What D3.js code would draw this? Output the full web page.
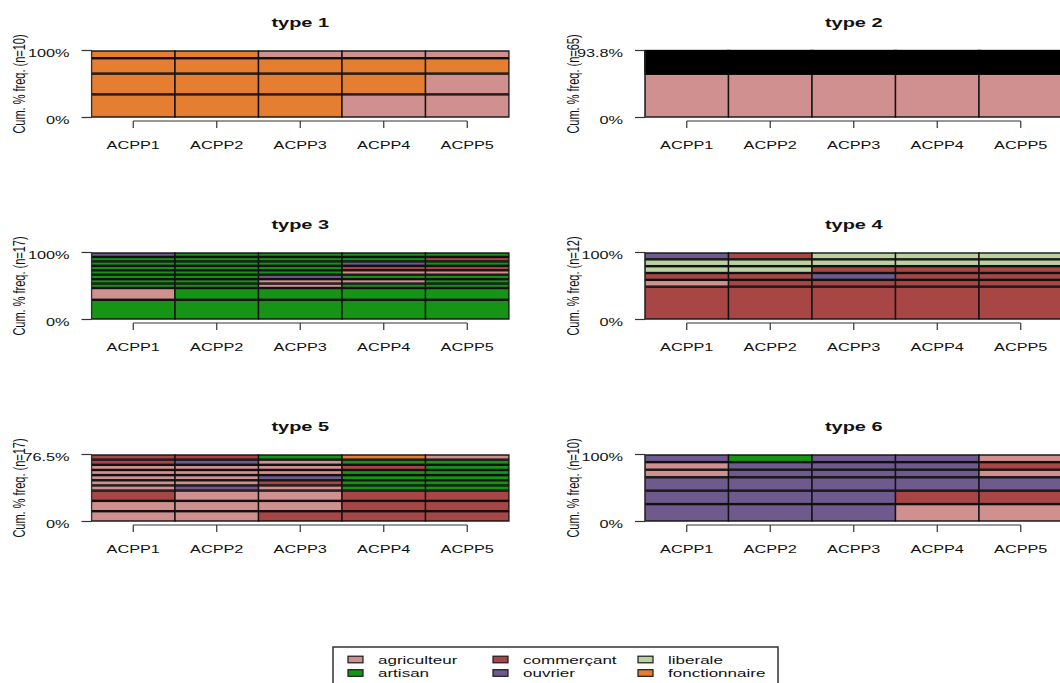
<!DOCTYPE html>
<html>
<head>
<meta charset="utf-8">
<script src="https://cdn.jsdelivr.net/npm/d3@7"></script>
<style>
  body { margin: 0; background: #fff; }
  text { font-family: "Liberation Sans", Arial, sans-serif; fill: #111; }
</style>
</head>
<body>
<div id="chart"></div>
<script>
// states, in the order of the alphabet of the sequences
const states = ["agriculteur", "artisan", "commerçant", "ouvrier", "liberale", "fonctionnaire"];
const stateCodes = ["AG", "AR", "CO", "OU", "LI", "FO"];
const stateColors = ["#D09090", "#159415", "#A84646", "#6F5A8D", "#BAD2A0", "#E57E30"];
const periods = ["ACPP1", "ACPP2", "ACPP3", "ACPP4", "ACPP5"];

// most frequent sequences of each type, bottom to top, with their % frequency
const typeNames = ["type 1", "type 2", "type 3", "type 4", "type 5", "type 6"];
const typeN = [10, 65, 17, 12, 17, 10];

const type1Seq = ["FO-FO-FO-AG-AG", "FO-FO-FO-FO-AG", "FO-FO-FO-FO-FO", "FO-FO-AG-AG-AG"];
const type1Pct = [34.5, 31, 23, 11.5];

const type2Seq = ["AG-AG-AG-AG-AG", "AG-AG-AG-AG-CO", "CO-CO-CO-CO-CO", "AG-AG-AG-CO-CO",
                  "AG-AG-CO-CO-CO", "AG-CO-CO-CO-CO", "AG-AG-AG-AG-LI", "OU-OU-OU-OU-OU",
                  "AG-AG-AG-AG-OU", "AR-AR-AR-AR-AR"];
const type2Pct = [61.54, 4.6, 4.6, 4.6, 3.07, 3.07, 3.07, 3.07, 3.07, 3.07];

const type3Seq = ["AR-AR-AR-AR-AR", "AG-AR-AR-AR-AR", "AR-AR-AG-AR-AR", "AR-AR-AG-AG-AR",
                  "AR-AR-OU-AR-AR", "AR-AR-AR-AG-AG", "AR-AR-AR-CO-CO", "AR-AR-AR-OU-AR",
                  "AR-AR-AR-AR-CO", "OU-AR-AR-AR-AR"];
const type3Pct = [29.4, 17.6, 6.625, 6.625, 6.625, 6.625, 6.625, 6.625, 6.625, 6.625];

const type4Seq = ["CO-CO-CO-CO-CO", "AG-CO-CO-CO-CO", "CO-CO-OU-CO-CO", "LI-LI-CO-CO-CO",
                  "LI-LI-LI-LI-LI", "OU-CO-LI-LI-LI"];
const type4Pct = [49, 10.2, 10.2, 10.2, 10.2, 10.2];

const type5Seq = ["AG-AG-CO-CO-CO", "AG-AG-AG-CO-CO", "CO-AG-AG-CO-CO", "AG-OU-AG-AR-AR",
                  "AG-AG-CO-AR-AR", "AG-AG-OU-AR-AR", "AG-AG-AG-AR-AR", "AG-AG-AG-CO-AR",
                  "CO-OU-AG-AR-AR", "CO-CO-AR-FO-AG"];
const type5Pct = [11.765, 11.765, 11.765, 5.882, 5.882, 5.882, 5.882, 5.882, 5.882, 5.882];

const type6Seq = ["OU-OU-OU-AG-AG", "OU-OU-OU-CO-CO", "OU-OU-OU-OU-OU", "AG-OU-OU-OU-AG",
                  "AG-OU-OU-OU-CO", "OU-AR-OU-OU-AG"];
const type6Pct = [26, 20, 20, 11.3, 11.3, 11.4];

const typeSeqs = [type1Seq, type2Seq, type3Seq, type4Seq, type5Seq, type6Seq];
const typePcts = [type1Pct, type2Pct, type3Pct, type4Pct, type5Pct, type6Pct];

const width = 1060, height = 683;
const SX = 1.48;            // the picture is stretched horizontally
const plotW = 417.5, plotH = 67;
const colLeft = [91.5, 645];
const rowTop = [50.5, 252.5, 454.5];

const color = d3.scaleOrdinal().domain(stateCodes).range(stateColors);

const svg = d3.select("#chart").append("svg")
    .attr("width", width)
    .attr("height", height);

svg.append("rect").attr("width", width).attr("height", height).attr("fill", "#fff");
const defs = svg.append("defs");

function stretchedText(parent, x, y, str, anchor, size, weight) {
    return parent.append("text")
        .attr("transform", `translate(${x},${y}) scale(${SX},1)`)
        .attr("text-anchor", anchor)
        .attr("font-size", size)
        .attr("font-weight", weight || "normal")
        .text(str);
}

typeNames.forEach((name, t) => {
    const left = colLeft[t % 2], top = rowTop[Math.floor(t / 2)];
    const seqs = typeSeqs[t], pcts = typePcts[t];
    const total = d3.sum(pcts);

    const x = d3.scaleBand().domain(periods).range([left, left + plotW]).padding(0);
    const y = d3.scaleLinear().domain([0, total]).range([top + plotH, top]);

    const g = svg.append("g");

    defs.append("clipPath").attr("id", "clip" + t)
        .append("rect")
        .attr("x", left - 0.8).attr("y", top - 0.8)
        .attr("width", plotW + 1.6).attr("height", plotH + 1.6);

    // rows: one per distinct sequence, height = frequency
    let cum = 0;
    const rows = seqs.map((s, i) => {
        const r = { states: s.split("-"), y0: cum, y1: cum + pcts[i] };
        cum += pcts[i];
        return r;
    });

    const bars = g.append("g").attr("clip-path", `url(#clip${t})`);
    const gap = 1;
    rows.forEach(r => {
        const h = y(r.y0) - y(r.y1);
        const thin = h < 4;
        bars.append("g").selectAll("rect")
            .data(r.states.map((st, j) => ({ st, p: periods[j] })))
            .join("rect")
            .attr("x", d => x(d.p))
            .attr("width", x.bandwidth())
            .attr("y", y(r.y1) + gap / 2)
            .attr("height", Math.max(0.1, h - gap))
            .attr("fill", d => color(d.st))
            .attr("stroke", thin ? "#000" : "#111")
            .attr("stroke-width", thin ? 3.5 : 1.4);
    });

    // y axis: 0 and cumulated % only
    const yTicks = [0, total];
    const fmt = v => v === 0 ? "0%" : (Math.abs(v - 100) < 0.05 ? "100%" : d3.format(".1f")(v) + "%");
    g.append("line")
        .attr("x1", left).attr("x2", left)
        .attr("y1", y(0)).attr("y2", y(total))
        .attr("stroke", "#333");
    yTicks.forEach(v => {
        g.append("line")
            .attr("x1", left - 10).attr("x2", left)
            .attr("y1", y(v)).attr("y2", y(v))
            .attr("stroke", "#333").attr("stroke-width", 1.2);
        stretchedText(g, left - 22, y(v) + 6, fmt(v), "end", 11);
    });

    // x axis under the bars
    const axY = top + plotH + 3.5;
    const centers = periods.map(p => x(p) + x.bandwidth() / 2);
    g.append("line")
        .attr("x1", centers[0]).attr("x2", centers[centers.length - 1])
        .attr("y1", axY).attr("y2", axY)
        .attr("stroke", "#333").attr("stroke-width", 1.2);
    periods.forEach((p, i) => {
        g.append("line")
            .attr("x1", centers[i]).attr("x2", centers[i])
            .attr("y1", axY).attr("y2", axY + 7)
            .attr("stroke", "#333").attr("stroke-width", 1.2);
        stretchedText(g, centers[i], top + plotH + 31, p, "middle", 11);
    });

    // title
    stretchedText(g, left + plotW / 2, top - 24, name, "middle", 13.5, "bold");

    // y label
    g.append("text")
        .attr("transform", `translate(${left - 66.5},${top + plotH / 2}) rotate(-90) scale(1,${SX})`)
        .attr("text-anchor", "middle")
        .attr("font-size", 11)
        .text(`Cum. % freq. (n=${typeN[t]})`);
});

// legend, filled column by column (3 columns)
const legend = svg.append("g");
legend.append("rect")
    .attr("x", 333).attr("y", 647)
    .attr("width", 445).attr("height", 50)
    .attr("fill", "none").attr("stroke", "#333").attr("stroke-width", 1.5);

const legColX = [348, 493, 638];
const legRowY = [659.5, 673];
states.forEach((s, i) => {
    const cx = legColX[Math.floor(i / 2)], cy = legRowY[i % 2];
    legend.append("rect")
        .attr("x", cx).attr("y", cy - 3.3)
        .attr("width", 15).attr("height", 6.6)
        .attr("fill", stateColors[i])
        .attr("stroke", "#1a1a1a").attr("stroke-width", 1.2);
    stretchedText(legend, cx + 30, cy + 4, s, "start", 11.5);
});
</script>
</body>
</html>
